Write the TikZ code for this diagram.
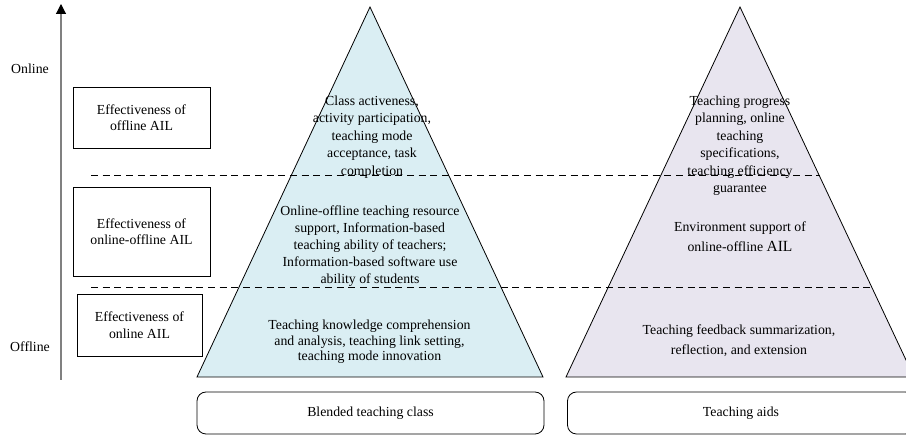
\documentclass[tikz,border=0pt]{standalone}
\usepackage{fontspec}
\setmainfont{Liberation Serif}
\usetikzlibrary{arrows.meta}
\definecolor{classfill}{HTML}{DAEEF3}
\definecolor{aidfill}{HTML}{E8E5EF}
\definecolor{axisgray}{HTML}{808080}
\tikzset{
  lbl/.style={font=\fontsize{13.8}{16.5}\selectfont, align=center, inner sep=0pt},
  levelbox/.style={draw, line width=0.8pt, lbl, minimum width=137pt},
  basebox/.style={draw, line width=0.8pt, rounded corners=9pt, lbl, minimum width=347pt, minimum height=42pt},
  pyramid/.style={draw, line width=0.8pt},
  divider/.style={dashed, dash pattern=on 7pt off 4.7pt, line width=0.8pt},
}
\begin{document}
\begin{tikzpicture}[x=1pt,y=1pt]
\clip (0,0) rectangle (906,436);

% pyramids
\filldraw[pyramid, fill=classfill] (370,429) -- (543,59) -- (197,59) -- cycle;
\filldraw[pyramid, fill=aidfill] (740,429) -- (914,59) -- (566,59) -- cycle;

% level dividers
\coordinate (d1a) at (91,261); \coordinate (d1b) at (820,261);
\coordinate (d2a) at (91,149); \coordinate (d2b) at (872,149);
\draw[divider] (d1a) -- (d1b);
\draw[divider] (d2a) -- (d2b);

% vertical axis
\coordinate (axb) at (61,56); \coordinate (axt) at (61,432);
\draw[axisgray, line width=1.1pt, -{Triangle[length=10pt, width=10pt, black]}] (axb) -- (axt);
\node[lbl] (online) at (30,367) {Online};
\node[lbl] (offline) at (30,89) {Offline};

% effectiveness boxes
\node[levelbox, minimum height=61pt] (e1) at (141.5,318.5) {Effectiveness of\\offline AIL};
\node[levelbox, minimum height=89pt] (e2) at (141.5,204.5) {Effectiveness of\\online-offline AIL};
\node[levelbox, minimum width=125pt, minimum height=62pt] (e3) at (139.5,111) {Effectiveness of\\online AIL};

% blended teaching class pyramid texts
\node[lbl, font=\fontsize{13.8}{17.5}\selectfont] (c1) at (372,299) {Class activeness,\\activity participation,\\teaching mode\\acceptance, task\\completion};
\node[lbl, font=\fontsize{13.8}{17}\selectfont] (c2) at (370,190) {Online-offline teaching resource\\support, Information-based\\teaching ability of teachers;\\Information-based software use\\ability of students};
\node[lbl, font=\fontsize{13.8}{15.5}\selectfont] (c3) at (369.5,94) {Teaching knowledge comprehension\\and analysis, teaching link setting,\\teaching mode innovation};

% teaching aids pyramid texts
\node[lbl, font=\fontsize{13.8}{17.5}\selectfont] (a1) at (740,290.5) {Teaching progress\\planning, online\\teaching\\specifications,\\teaching efficiency\\guarantee};
\node[lbl, font=\fontsize{13.8}{20}\selectfont] (a2) at (740,199) {Environment support of\\online-offline {\fontsize{15.5}{20}\selectfont AIL}};
\node[lbl, font=\fontsize{13.8}{20}\selectfont] (a3) at (739,95) {Teaching feedback summarization,\\reflection, and extension};

% base labels
\node[basebox] (bclass) at (370.5,23) {Blended teaching class};
\node[basebox] (baids) at (741,23) {Teaching aids};
\end{tikzpicture}
\end{document}
